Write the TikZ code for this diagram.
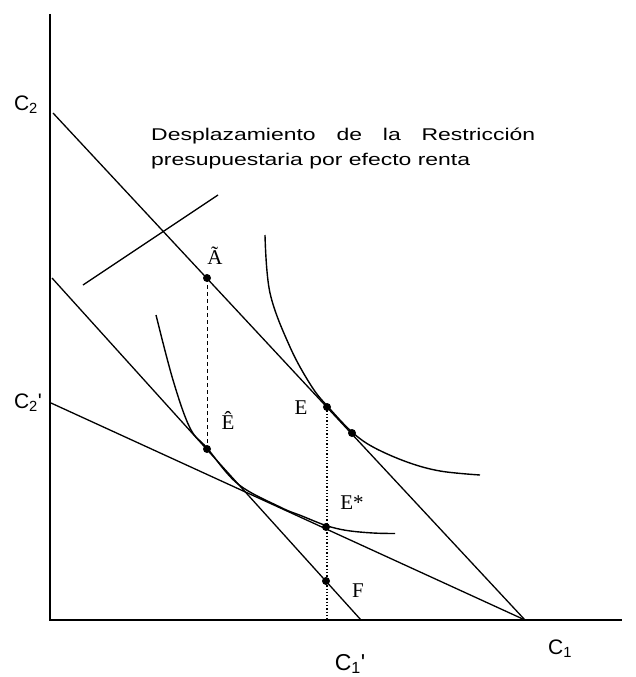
\documentclass[tikz,border=0pt]{standalone}
\usepackage{fontspec}
\setmainfont{Liberation Serif}
\newfontfamily\axisfont{Liberation Sans}
\newfontfamily\notefont[FakeStretch=1.35]{Liberation Sans}
\usetikzlibrary{positioning}

\begin{document}
\begin{tikzpicture}[x=1pt, y=-1pt,
        axis/.style={line width=1.9pt},
        budget/.style={line width=1.3pt},
        indiff/.style={line width=1.4pt},
        dot/.style={circle, fill=black, inner sep=0pt, minimum size=8pt},
        lbl/.style={font=\fontsize{21}{21}\selectfont, inner sep=1pt},
        axlbl/.style={font=\axisfont\fontsize{21}{21}\selectfont, inner sep=1pt}]
  \useasboundingbox (0,0) rectangle (635,677);

  % ejes
  \coordinate (O) at (50,620);
  \coordinate (ytop) at (50,14);
  \coordinate (xend) at (622,620);
  \draw[axis] (ytop) -- (O) -- (xend);

  % restricciones presupuestarias
  \coordinate (c2) at (53,113);
  \coordinate (c1) at (525,620);
  \coordinate (c2b) at (52,278);
  \coordinate (c1b) at (361,620);
  \coordinate (c2p) at (51,403);
  \draw[budget] (c2) -- (c1);
  \draw[budget] (c2b) -- (c1b);
  \draw[budget] (c2p) -- (c1);

  % curvas de indiferencia
  \draw[indiff] plot[smooth, tension=0.6] coordinates {(265,235) (270,293) (290,347) (312,387) (330,409) (352,432) (373,447) (407,462) (440,471) (480,475)};
  \draw[indiff] plot[smooth, tension=0.6] coordinates {(156,315) (173,380) (190,428) (207,448) (238,484) (280,507) (302,516) (326,525.5) (347,530.5) (373,533) (395,533.5)};

  % puntos
  \node[dot] (A) at (207,278) {};
  \node[dot] (Eh) at (207,449) {};
  \node[dot] (E) at (327,407) {};
  \node[dot] (T) at (352,433) {};
  \node[dot] (Es) at (326,527) {};
  \node[dot] (F) at (326,581) {};

  \draw[line width=0.9pt, dash pattern=on 4pt off 3pt] (A.center) -- (Eh.center);
  \draw[line width=1.3pt, dotted] (E.center) -- (E |- O);

  % etiquetas
  \node[lbl] (lA) at (215,256) {Ã};
  \node[lbl] (lEh) at (228,420) {Ê};
  \node[lbl] (lE) at (301,408) {E};
  \node[lbl] (lEs) at (352,503) {E*};
  \node[lbl] (lF) at (358,591) {F};
  \node[axlbl] (lc2) at (26,105) {C\textsubscript{2}};
  \node[axlbl] (lc2p) at (28,403) {C\textsubscript{2}'};
  \node[axlbl] (lc1) at (560,649) {C\textsubscript{1}};
  \node[axlbl, font=\axisfont\fontsize{23}{23}\selectfont] (lc1p) at (350,664) {C\textsubscript{1}'};

  % nota
  \coordinate (p1) at (83,285);
  \coordinate (p2) at (218,195);
  \draw[line width=1.3pt] (p1) -- (p2);
  \node[anchor=north west, inner sep=0pt, text width=384pt, align=justify,
        font=\notefont\fontsize{17}{25}\selectfont] (nota) at (151,128)
    {Desplazamiento de la Restricción\linebreak presupuestaria por efecto renta};
\end{tikzpicture}
\end{document}
